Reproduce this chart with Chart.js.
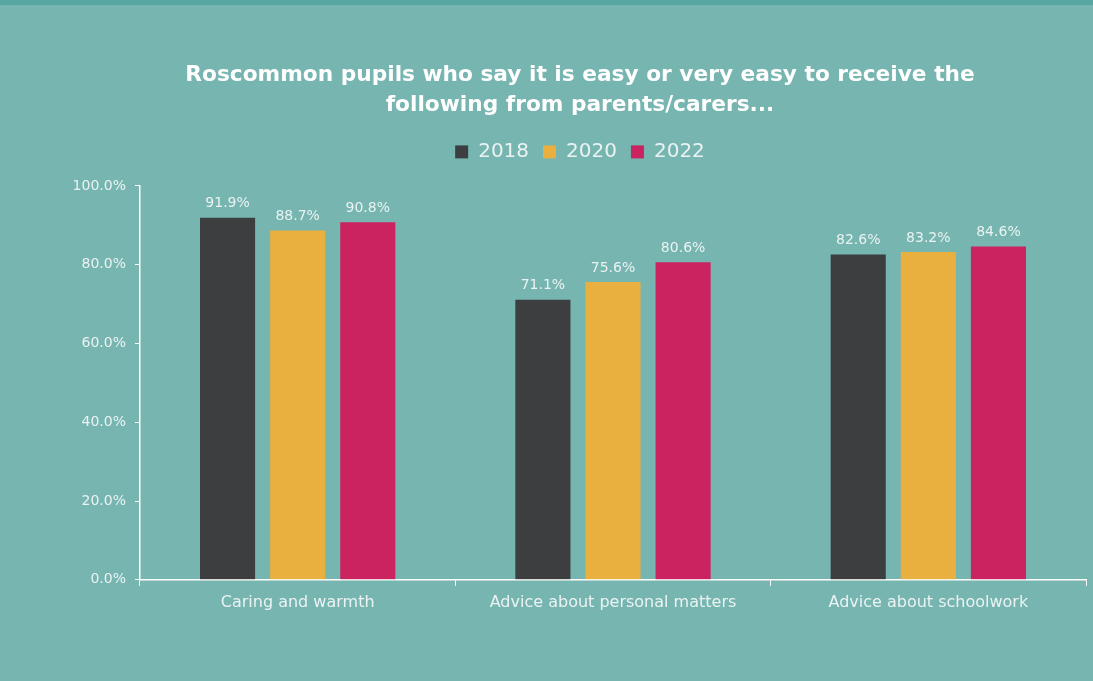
<!DOCTYPE html>
<html>
<head>
<meta charset="utf-8">
<script src="https://cdn.jsdelivr.net/npm/chart.js@4.4.0/dist/chart.umd.min.js"></script>
<style>
  html, body { margin: 0; padding: 0; background: #77b5b1; }
  #wrap { width: 1093px; height: 676px; border-top: 5px solid #58a6a1; }
</style>
</head>
<body>
<div id="wrap"><canvas id="chart" width="1093" height="676"></canvas></div>
<script>
// données
const categories = ['Caring and warmth', 'Advice about personal matters', 'Advice about schoolwork'];
const years = ['2018', '2020', '2022'];
const values2018 = [91.9, 71.1, 82.6];
const values2020 = [88.7, 75.6, 83.2];
const values2022 = [90.8, 80.6, 84.6];
const yTicks = [0, 20, 40, 60, 80, 100];

const colors = ['#3d3e40', '#e9b040', '#cb2360'];
const police = "'DejaVu Sans', sans-serif";
const texte = '#eaf3f2';

// petites étiquettes au-dessus des barres
const etiquettes = {
    id: 'etiquettes',
    afterDatasetsDraw(chart) {
        const ctx = chart.ctx;
        ctx.save();
        ctx.fillStyle = texte;
        ctx.font = "14px " + police;
        ctx.textAlign = 'center';
        ctx.textBaseline = 'bottom';
        chart.data.datasets.forEach((ds, i) => {
            chart.getDatasetMeta(i).data.forEach((bar, j) => {
                ctx.fillText(ds.data[j].toFixed(1) + '%', bar.x, bar.y - 7);
            });
        });
        ctx.restore();
    }
};

// un peu plus d'espace sous la légende
const espaceLegende = {
    id: 'espaceLegende',
    beforeInit(chart) {
        const fitOrig = chart.legend.fit;
        chart.legend.fit = function () {
            fitOrig.bind(chart.legend)();
            this.height += 14;
        };
    }
};

const ctx = document.getElementById('chart').getContext('2d');
new Chart(ctx, {
    type: 'bar',
    data: {
        labels: categories,
        datasets: [values2018, values2020, values2022].map((d, i) => ({
            label: years[i],
            data: d,
            backgroundColor: colors[i],
            categoryPercentage: 0.667,
            barPercentage: 0.786
        }))
    },
    options: {
        responsive: false,
        animation: false,
        layout: { padding: { left: 74, right: 7, top: 55, bottom: 62 } },
        plugins: {
            title: {
                display: true,
                text: ['Roscommon pupils who say it is easy or very easy to receive the', 'following from parents/carers...'],
                color: '#ffffff',
                font: { family: police, size: 21.7, weight: 'bold', lineHeight: 1.38 },
                padding: { top: 0, bottom: 8 }
            },
            legend: {
                labels: {
                    color: texte,
                    font: { family: police, size: 20 },
                    boxWidth: 13,
                    boxHeight: 13,
                    padding: 14
                }
            },
            tooltip: { enabled: false }
        },
        scales: {
            y: {
                min: 0,
                max: 100,
                afterBuildTicks: axis => { axis.ticks = yTicks.map(v => ({ value: v })); },
                afterFit: axis => { axis.width = 66; },
                border: { color: '#ffffff', width: 1.5 },
                grid: { drawOnChartArea: false, color: '#ffffff', tickLength: 5 },
                ticks: {
                    color: texte,
                    font: { family: police, size: 14 },
                    padding: 9,
                    callback: v => v.toFixed(1) + '%'
                }
            },
            x: {
                border: { color: '#ffffff', width: 1.5 },
                grid: { drawOnChartArea: false, color: '#ffffff', tickLength: 6 },
                ticks: {
                    color: texte,
                    font: { family: police, size: 16 },
                    padding: 7
                }
            }
        }
    },
    plugins: [etiquettes, espaceLegende]
});
</script>
</body>
</html>
